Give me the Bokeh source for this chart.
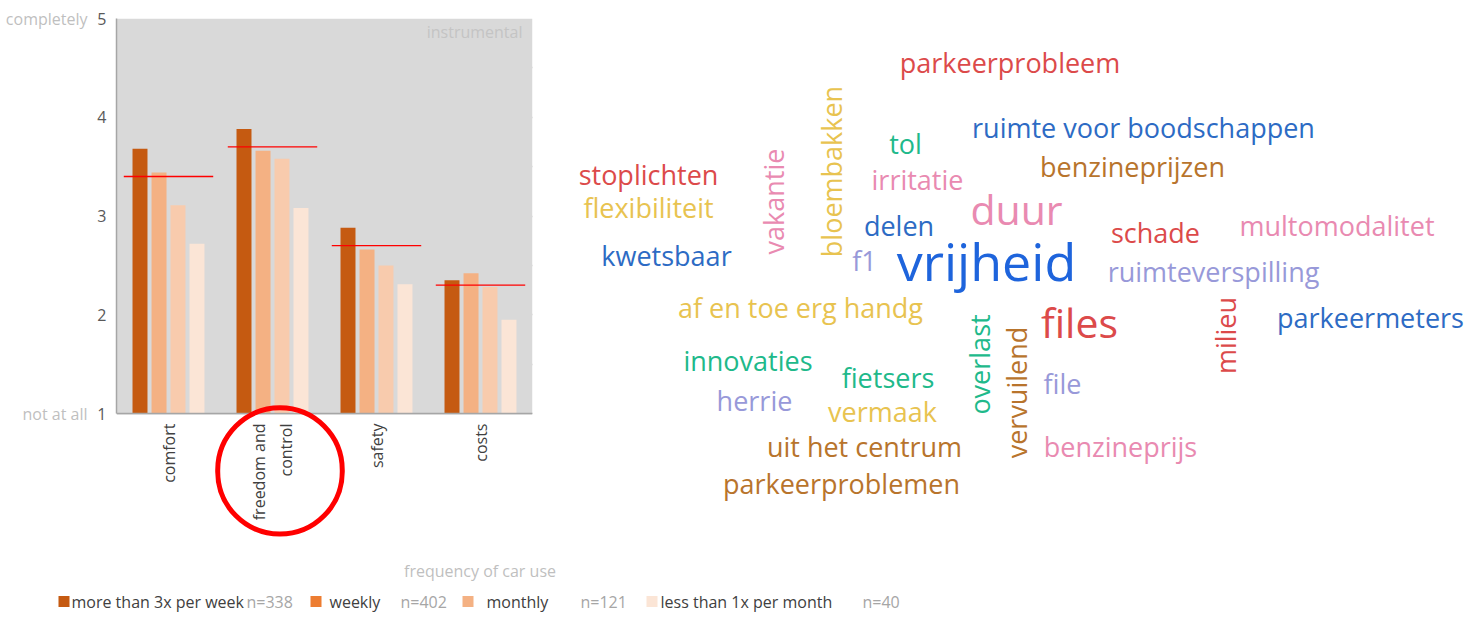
import math
import numpy as np
from bokeh.plotting import figure
from bokeh.models import (ColumnDataSource, FactorRange, Range1d, FixedTicker, LinearAxis,
                          Label, BoxAnnotation)
from bokeh.transform import dodge
from bokeh.layouts import column, row
from bokeh.core.properties import value
from bokeh.embed import file_html
from bokeh.resources import INLINE

# ---------------- data ----------------
categories = ["comfort", "freedom and\ncontrol", "safety", "costs"]
series_names = ["more than 3x per week", "weekly", "monthly", "less than 1x per month"]
n_respondents = [338, 402, 121, 40]
more_than_3x_week = [3.68, 3.88, 2.88, 2.35]
weekly = [3.44, 3.66, 2.66, 2.42]
monthly = [3.11, 3.58, 2.50, 2.28]
less_than_1x_month = [2.72, 3.08, 2.31, 1.95]
average = [3.40, 3.70, 2.70, 2.30]
y_ticks = [1, 2, 3, 4, 5]
y_end_labels = {1: "not at all", 5: "completely"}

words = ["parkeerprobleem", "ruimte voor boodschappen", "tol", "irritatie", "benzineprijzen",
         "stoplichten", "flexibiliteit", "duur", "delen", "schade", "multomodalitet",
         "kwetsbaar", "f1", "vrijheid", "ruimteverspilling", "af en toe erg handg", "files",
         "parkeermeters", "innovaties", "fietsers", "herrie", "file", "vermaak",
         "uit het centrum", "benzineprijs", "parkeerproblemen",
         "vakantie", "bloembakken", "overlast", "vervuilend", "milieu"]

# ---------------- layout / style ----------------
CHART_FONT = "Open Sans"
CLOUD_FONT = "Open Sans"
bar_colors = ["#C55A11", "#F4B183", "#F8CBAD", "#FBE5D6"]
legend_colors = ["#C55A11", "#ED7D31", "#F4B183", "#FBE5D6"]
bar_offsets = [-0.274, -0.091, 0.091, 0.274]
bar_width = 0.144

RED = "#DC4A4A"; BLUE = "#2D6BC4"; BBLUE = "#1E64DC"; PINK = "#E98AB1"
LAV = "#9899D9"; GREEN = "#20B98A"; YEL = "#E8C350"; BROWN = "#B8742C"
word_color = [RED, BLUE, GREEN, PINK, BROWN, RED, YEL, PINK, BLUE, RED, PINK, BLUE, LAV,
              BBLUE, LAV, YEL, RED, BLUE, GREEN, GREEN, LAV, LAV, YEL, BROWN, PINK, BROWN,
              PINK, YEL, GREEN, BROWN, RED]
# horizontal words: (centre x, baseline y); vertical words: (baseline x, centre y)
word_x = [1009.5, 1143, 905, 917, 1132, 648, 648, 1016, 898.5, 1155, 1336.5, 666, 864, 986,
          1213, 800, 1079, 1370, 747.5, 887.5, 754, 1062, 882, 864, 1120, 841,
          783, 841, 989, 1026.5, 1235]
word_y = [72.5, 137, 153, 189, 176.5, 184, 217.5, 224.5, 235.5, 242.5, 235.5, 265, 270, 280,
          281.5, 317, 337, 327.5, 370, 387, 410, 393, 421.5, 456.5, 456.5, 493,
          201, 171, 364, 392, 335]
word_px = [27] * 31
word_px[words.index("vrijheid")] = 52
word_px[words.index("duur")] = 41
word_px[words.index("files")] = 41
n_horiz = 26
word_angle = [0.0] * n_horiz + [math.pi / 2] * (len(words) - n_horiz)
# Bokeh's alphabetic anchor sits ~0.38em below the true baseline: compensate
SHIFT = 0.38
anchor_x = [x if i < n_horiz else x - SHIFT * s for i, (x, s) in enumerate(zip(word_x, word_px))]
anchor_y = [y - SHIFT * s if i < n_horiz else y for i, (y, s) in enumerate(zip(word_y, word_px))]

TOP_H = 555
W_LEFT, W_RIGHT = 560, 906
FRAME_TOP, FRAME_BOTTOM = 18, 545
# bar chart frame: x 116..532 ; value 1 at y=413, value 5 at y=18
y_bottom = 1 - (FRAME_BOTTOM - 413) / ((413 - FRAME_TOP) / 4)

# ---------------- bar chart ----------------
pA = figure(x_range=FactorRange(*categories), y_range=Range1d(y_bottom, 5),
            width=W_LEFT, height=TOP_H, output_backend="svg", toolbar_location=None,
            min_border_left=116, min_border_right=W_LEFT - 532, min_border_top=FRAME_TOP,
            min_border_bottom=TOP_H - FRAME_BOTTOM)
pA.background_fill_color = "white"
pA.border_fill_color = "white"
pA.outline_line_color = None
pA.add_layout(BoxAnnotation(bottom=1, top=5, fill_color="#D9D9D9", fill_alpha=1,
                            line_color=None, level="underlay"))

src = ColumnDataSource(dict(cat=categories, s0=more_than_3x_week, s1=weekly, s2=monthly,
                            s3=less_than_1x_month, avg=average))
for key, off, col in zip(["s0", "s1", "s2", "s3"], bar_offsets, bar_colors):
    pA.vbar(x=dodge("cat", off, range=pA.x_range), top=key, bottom=1, width=bar_width,
            source=src, fill_color=col, line_color=None)
pA.segment(x0=dodge("cat", -0.43, range=pA.x_range), x1=dodge("cat", 0.43, range=pA.x_range),
           y0="avg", y1="avg", source=src, line_color="#FF0000", line_width=1.3)

pA.xgrid.grid_line_color = None
pA.ygrid.ticker = FixedTicker(ticks=list(np.arange(1, 5.01, 0.5)))
pA.ygrid.grid_line_color = "#A6A6A6"
pA.ygrid.grid_line_width = 1.5

pA.yaxis.ticker = FixedTicker(ticks=y_ticks)
pA.yaxis.bounds = (1, 5)
pA.yaxis.axis_line_color = "#A6A6A6"
pA.yaxis.axis_line_width = 1.5
pA.yaxis.major_tick_line_color = None
pA.yaxis.minor_tick_line_color = None
pA.yaxis.major_tick_out = 0
pA.yaxis.minor_tick_out = 0
pA.yaxis.major_label_text_font_size = "16px"
pA.yaxis.major_label_text_font = CHART_FONT
pA.yaxis.major_label_text_color = "#595959"
pA.yaxis.major_label_standoff = 10

pA.xaxis.fixed_location = 1
pA.xaxis.axis_line_color = "#A6A6A6"
pA.xaxis.axis_line_width = 1.5
pA.xaxis.major_tick_line_color = None
pA.xaxis.major_tick_out = 0
pA.xaxis.minor_tick_out = 0
pA.xaxis.major_label_orientation = math.pi / 2   # reads bottom-to-top
pA.xaxis.major_label_text_font_size = "16px"
pA.xaxis.major_label_text_font = CHART_FONT
pA.xaxis.major_label_text_color = "#404040"
pA.xaxis.major_label_standoff = 10

ax2 = LinearAxis(ticker=FixedTicker(ticks=[1, 5]), major_label_overrides=y_end_labels,
                 axis_line_color=None, major_tick_line_color=None, minor_tick_line_color=None,
                 major_tick_out=0, minor_tick_out=0,
                 major_label_text_color="#BFBFBF", major_label_text_font_size="16px",
                 major_label_text_font=CHART_FONT, major_label_standoff=7)
pA.add_layout(ax2, "left")

pA.add_layout(Label(x=4, y=4.86, x_offset=-10, text="instrumental", text_align="right",
                    text_baseline="middle", text_color="#C4C4C4", text_font_size="16px",
                    text_font=CHART_FONT))
pA.add_layout(Label(x=1.572, y=0.418, text=" ", text_font_size="2px", text_align="center",
                    text_baseline="middle", padding=62, border_radius=63,
                    border_line_color="#FF0000", border_line_width=5))

# ---------------- word cloud ----------------
# the row aligns this frame vertically with the bar chart frame (FRAME_TOP..FRAME_BOTTOM)
pB = figure(x_range=Range1d(W_LEFT, W_LEFT + W_RIGHT), y_range=Range1d(FRAME_BOTTOM, FRAME_TOP),
            width=W_RIGHT, height=TOP_H, output_backend="svg", toolbar_location=None,
            x_axis_type=None, y_axis_type=None, min_border=0,
            min_border_top=FRAME_TOP, min_border_bottom=TOP_H - FRAME_BOTTOM)
pB.outline_line_color = None
pB.grid.grid_line_color = None
cloud = ColumnDataSource(dict(x=anchor_x, y=anchor_y, word=words, color=word_color,
                              size=["%dpx" % s for s in word_px], angle=word_angle))
pB.text(x="x", y="y", text="word", angle="angle", text_color="color", text_font_size="size",
        text_font=value(CLOUD_FONT), text_align="center", text_baseline="alphabetic",
        source=cloud)

# ---------------- legend strip ----------------
BOT_H = 63
pC = figure(x_range=Range1d(0, W_LEFT + W_RIGHT), y_range=Range1d(TOP_H + BOT_H, TOP_H),
            width=W_LEFT + W_RIGHT, height=BOT_H, output_backend="svg", toolbar_location=None,
            x_axis_type=None, y_axis_type=None, min_border=0)
pC.outline_line_color = None
pC.grid.grid_line_color = None
pC.add_layout(Label(x=479.5, y=570, text="frequency of car use", text_align="center",
                    text_baseline="middle", text_color="#BFBFBF", text_font_size="16px",
                    text_font=CHART_FONT))
leg = ColumnDataSource(dict(
    sx=[63.5, 315.5, 467.5, 651.5], tx=[71, 329, 486, 660], nx=[246, 400, 580, 862],
    y=[601] * 4, color=legend_colors, name=series_names,
    n=["n=%d" % v for v in n_respondents]))
pC.rect(x="sx", y="y", width=11, height=11, fill_color="color", line_color=None, source=leg)
pC.text(x="tx", y="y", text="name", text_color="#404040", text_font_size="16px",
        text_font=value(CHART_FONT), text_baseline="middle", text_align="left", source=leg)
pC.text(x="nx", y="y", text="n", text_color="#A6A6A6", text_font_size="16px",
        text_font=value(CHART_FONT), text_baseline="middle", text_align="left", source=leg)

layout = column(row(pA, pB), pC)
open("out.html", "w").write(file_html(layout, INLINE))
